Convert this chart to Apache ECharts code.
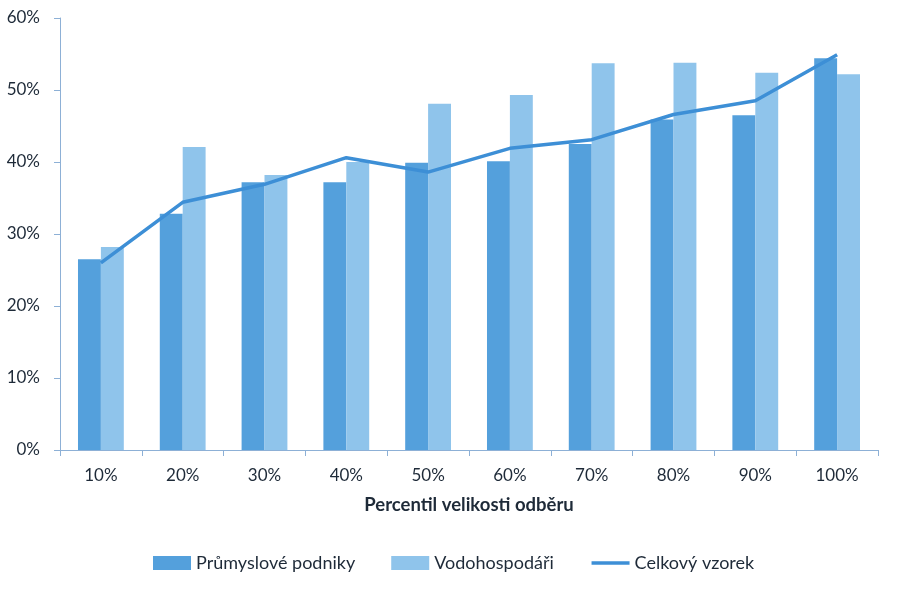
<!DOCTYPE html>
<html><head><meta charset="utf-8">
<script src="https://cdn.jsdelivr.net/npm/echarts@6/dist/echarts.min.js"></script>
<style>html,body{margin:0;padding:0;background:#fff}#c{width:899px;height:591px}</style>
</head><body><div id="c"></div>
<script>
const categories = ['10%','20%','30%','40%','50%','60%','70%','80%','90%','100%'];
const prumyslove = [26.5, 32.8, 37.2, 37.2, 39.9, 40.1, 42.5, 45.9, 46.5, 54.4];
const vodohospodari = [28.2, 42.1, 38.2, 40.0, 48.1, 49.3, 53.7, 53.8, 52.4, 52.2];
const celkovy = [26.0, 34.4, 36.9, 40.6, 38.6, 41.9, 43.1, 46.6, 48.5, 54.9];
const yTicks = [0, 10, 20, 30, 40, 50, 60];

const font = 'Lato';
const txt = '#1e2a38';
const chart = echarts.init(document.getElementById('c'), null, {renderer: 'canvas'});
chart.setOption({
  animation: false,
  textStyle: {fontFamily: font},
  grid: {left: 60, right: 21, top: 18, bottom: 141, containLabel: false},
  legend: {
    top: 549, left: 148, itemGap: 36, itemWidth: 38, itemHeight: 14,
    textStyle: {fontFamily: font, fontSize: 18, color: txt},
    data: [
      {name: 'Průmyslové podniky', icon: 'rect'},
      {name: 'Vodohospodáři', icon: 'rect'},
      {name: 'Celkový vzorek', itemStyle: {opacity: 0}, lineStyle: {width: 3.5, color: '#3d8fd6'}}
    ]
  },
  xAxis: {
    type: 'category', data: categories,
    name: 'Percentil velikosti odběru', nameLocation: 'middle', nameGap: 46,
    nameTextStyle: {fontFamily: font, fontSize: 18.5, fontWeight: 'bold', color: txt},
    axisLine: {lineStyle: {color: '#8db0d6', width: 1}},
    axisTick: {show: true, length: 6, lineStyle: {color: '#8db0d6'}},
    axisLabel: {fontFamily: font, fontSize: 17, color: txt, margin: 17}
  },
  yAxis: {
    type: 'value', min: yTicks[0], max: yTicks[yTicks.length-1], interval: 10,
    axisLine: {show: true, lineStyle: {color: '#8db0d6', width: 1}},
    axisTick: {show: true, length: 6, lineStyle: {color: '#8db0d6'}},
    splitLine: {show: false},
    axisLabel: {fontFamily: font, fontSize: 17, color: txt, margin: 20, formatter: v => v + '%'}
  },
  series: [
    {name: 'Průmyslové podniky', type: 'bar', data: prumyslove, barGap: '0%', barCategoryGap: '44%',
     itemStyle: {color: '#54a0dc'}},
    {name: 'Vodohospodáři', type: 'bar', data: vodohospodari, barGap: '0%', barCategoryGap: '44%',
     itemStyle: {color: '#8fc4eb'}},
    {name: 'Celkový vzorek', type: 'line', data: celkovy, showSymbol: false, symbol: 'none',
     lineStyle: {color: '#3d8fd6', width: 3.5}, itemStyle: {color: '#3d8fd6'}}
  ]
});
</script></body></html>
